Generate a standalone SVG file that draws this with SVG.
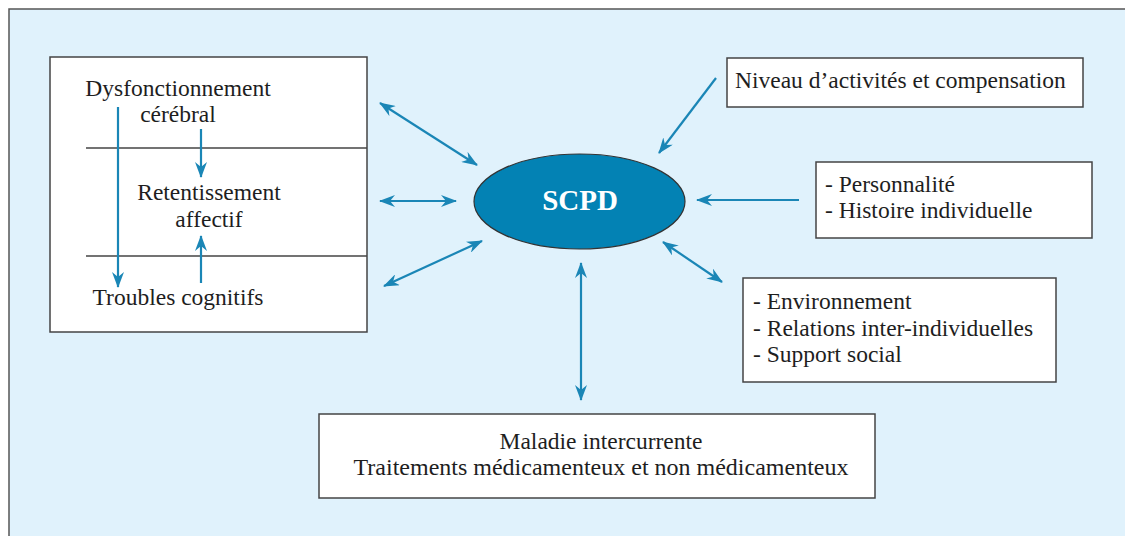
<svg xmlns="http://www.w3.org/2000/svg" width="1125" height="536" viewBox="0 0 1125 536">
<style>
.box{fill:#ffffff;stroke:#444444;stroke-width:1.5}
.t{font-family:"Liberation Serif",serif;font-size:23.5px;fill:#1e1e1e}
.c{text-anchor:middle}
.con{stroke:#1a86b6;stroke-width:2.2;fill:none}
.sep{stroke:#444444;stroke-width:1.5}
</style>
<defs>
<marker id="ah" viewBox="0 0 16 12" refX="15" refY="6" markerWidth="16" markerHeight="12" markerUnits="userSpaceOnUse" orient="auto-start-reverse">
<path d="M0,0 L16,6 L0,12 L5,6 Z" fill="#1a86b6"/>
</marker>
</defs>
<rect id="frame" x="9" y="9" width="1125" height="540" fill="#e0f2fc" stroke="#555555" stroke-width="1.5"/>

<g id="left-box">
<rect class="box" x="50" y="57" width="317" height="275"/>
<line class="sep" x1="86" y1="148" x2="367" y2="148"/>
<line class="sep" x1="86" y1="256" x2="367" y2="256"/>
<text class="t c" x="178" y="96">Dysfonctionnement</text>
<text class="t c" x="178" y="122">cérébral</text>
<text class="t c" x="209" y="200">Retentissement</text>
<text class="t c" x="209" y="227">affectif</text>
<text class="t c" x="178" y="305">Troubles cognitifs</text>
</g>

<g id="scpd">
<ellipse cx="579.5" cy="201.5" rx="105.5" ry="47.5" fill="#0382b4" stroke="#333333" stroke-width="1.2"/>
<text x="580" y="210" text-anchor="middle" font-family="Liberation Serif, serif" font-weight="bold" font-size="29" fill="#ffffff">SCPD</text>
</g>

<g id="niveau">
<rect class="box" x="727" y="58" width="356" height="49"/>
<text class="t" x="735" y="88">Niveau d’activités et compensation</text>
</g>

<g id="personnalite">
<rect class="box" x="816" y="162" width="276" height="76"/>
<text class="t" x="825" y="192">- Personnalité</text>
<text class="t" x="825" y="218">- Histoire individuelle</text>
</g>

<g id="environnement">
<rect class="box" x="743" y="278" width="313" height="104"/>
<text class="t" x="753" y="309">- Environnement</text>
<text class="t" x="753" y="336">- Relations inter-individuelles</text>
<text class="t" x="753" y="362">- Support social</text>
</g>

<g id="maladie">
<rect class="box" x="319" y="414" width="556" height="84"/>
<text class="t c" x="601" y="449">Maladie intercurrente</text>
<text class="t c" x="601" y="475" style="font-size:24px">Traitements médicamenteux et non médicamenteux</text>
</g>

<g id="connectors">
<line class="con" x1="118" y1="107" x2="118" y2="287" marker-end="url(#ah)"/>
<line class="con" x1="201" y1="129" x2="201" y2="177" marker-end="url(#ah)"/>
<line class="con" x1="201" y1="283" x2="201" y2="236" marker-end="url(#ah)"/>
<line class="con" x1="380" y1="103" x2="477" y2="165" marker-start="url(#ah)" marker-end="url(#ah)"/>
<line class="con" x1="380" y1="201" x2="456" y2="201" marker-start="url(#ah)" marker-end="url(#ah)"/>
<line class="con" x1="384" y1="286" x2="482" y2="241" marker-start="url(#ah)" marker-end="url(#ah)"/>
<line class="con" x1="716" y1="78" x2="659" y2="153" marker-end="url(#ah)"/>
<line class="con" x1="799" y1="200" x2="697" y2="200" marker-end="url(#ah)"/>
<line class="con" x1="663" y1="242" x2="722" y2="282" marker-start="url(#ah)" marker-end="url(#ah)"/>
<line class="con" x1="581" y1="263" x2="581" y2="400" marker-start="url(#ah)" marker-end="url(#ah)"/>
</g>
</svg>
